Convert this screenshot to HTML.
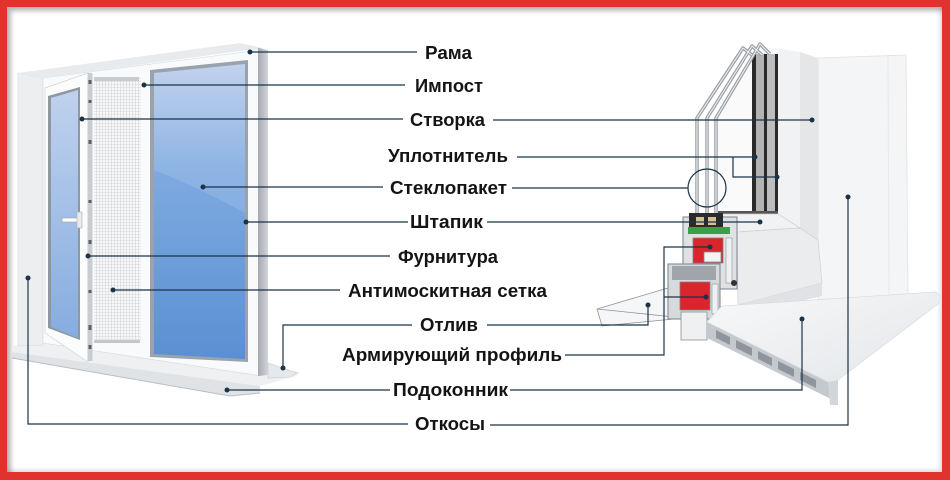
<!DOCTYPE html>
<html><head><meta charset="utf-8">
<style>
html,body{margin:0;padding:0;background:#e1332e;}
body{width:950px;height:480px;overflow:hidden;position:relative;}
.panel{position:absolute;left:7px;top:7px;width:935px;height:465px;background:#fff;box-shadow:inset 4px 4px 5px rgba(0,0,0,0.28), inset -2px -2px 4px rgba(0,0,0,0.14);}
svg{position:absolute;left:0;top:0;}
text{font-family:"Liberation Sans",Arial,sans-serif;font-weight:bold;font-size:18px;fill:#141414;}
</style></head><body>
<div class="panel"></div>
<svg width="950" height="480" viewBox="0 0 950 480">
<defs>
 <linearGradient id="glassBig" x1="0" y1="0" x2="0" y2="1">
  <stop offset="0" stop-color="#b9cceb"/>
  <stop offset="0.35" stop-color="#7faae0"/>
  <stop offset="1" stop-color="#5a90d3"/>
 </linearGradient>
 <linearGradient id="glassSm" x1="0" y1="0" x2="0" y2="1">
  <stop offset="0" stop-color="#bfd2ee"/>
  <stop offset="1" stop-color="#86acdf"/>
 </linearGradient>
 <linearGradient id="edgeG" x1="0" y1="0" x2="1" y2="0">
  <stop offset="0" stop-color="#a4a9b0"/>
  <stop offset="1" stop-color="#d3d6da"/>
 </linearGradient>
 <linearGradient id="sillG" x1="0" y1="0" x2="1" y2="1">
  <stop offset="0" stop-color="#f7f8f9"/>
  <stop offset="1" stop-color="#e3e6e9"/>
 </linearGradient>
 <pattern id="net" width="3" height="3" patternUnits="userSpaceOnUse">
  <rect width="3" height="3" fill="#f7f8f8"/>
  <path d="M0 0.5H3M0.5 0V3" stroke="#d3d6d9" stroke-width="0.6"/>
 </pattern>
</defs>

<!-- ===== LEFT WINDOW ===== -->
<!-- sill -->
<polygon points="12,346 45,340 300,372 296,376 260,386 12,352" fill="#eef0f2"/>
<polygon points="12,352 260,386 260,393 230,396 12,358" fill="#e0e3e6"/>
<line x1="12" y1="358" x2="230" y2="396" stroke="#b9bec4" stroke-width="1"/>
<line x1="230" y1="396" x2="260" y2="393" stroke="#b9bec4" stroke-width="1"/>
<!-- reveal -->
<polygon points="18,73 43,78 43,345 18,346" fill="#eceef0" stroke="#d6d9dc" stroke-width="0.6"/>
<!-- frame -->
<polygon points="43,78 245,52 262,48 262,376 43,343" fill="#f9fafb" stroke="#d6d9dc" stroke-width="0.6"/>
<polygon points="18,73 240,43 262,48 43,78" fill="#e8ebee"/>
<polygon points="258,48 268,50 268,375 258,376" fill="url(#edgeG)"/>
<polygon points="268,363 297,373 290,377 268,378" fill="#e6e9ec" stroke="#c5c9ce" stroke-width="0.6"/>
<!-- open sash -->
<polygon points="45,88 88,73 88,362 45,333" fill="#fbfcfc" stroke="#cfd3d7" stroke-width="0.7"/>
<polygon points="48,96 80,87 80,340 48,328" fill="#8f979f"/>
<polygon points="51,98 78,90 78,338 51,327" fill="url(#glassSm)"/>
<rect x="62" y="218" width="16" height="4" fill="#fff" stroke="#9aa1a8" stroke-width="0.6"/>
<rect x="77" y="212" width="5" height="16" fill="#e8eaec" stroke="#aab0b6" stroke-width="0.6"/>
<!-- hinge strip -->
<rect x="87.5" y="73" width="5" height="288" fill="#c9cdd1"/>
<g fill="#5a6066">
 <rect x="88.5" y="80" width="3" height="4"/><rect x="88.5" y="100" width="3" height="3"/>
 <rect x="88.5" y="140" width="3" height="4"/><rect x="88.5" y="200" width="3" height="3"/>
 <rect x="88.5" y="240" width="3" height="4"/><rect x="88.5" y="290" width="3" height="3"/>
 <rect x="88.5" y="325" width="3" height="5"/><rect x="88.5" y="345" width="3" height="4"/>
</g>
<!-- mosquito net -->
<rect x="94" y="77" width="47" height="265" fill="url(#net)"/>
<rect x="94" y="77" width="45" height="4" fill="#c8ccd0"/>
<rect x="94" y="340" width="46" height="3" fill="#c3c7cb"/>
<!-- big glass -->
<polygon points="150,70 248,60 248,362 150,357" fill="#9aa3ad"/>
<polygon points="154,73 245,64 245,359 154,354" fill="url(#glassBig)"/>
<path d="M154,170 Q200,188 245,213 L245,64 L154,73 Z" fill="#ffffff" opacity="0.12"/>

<!-- ===== RIGHT CROSS-SECTION ===== -->
<polygon points="818,58 906,55 908,296 818,300" fill="#f4f5f6" stroke="#e0e2e4" stroke-width="0.8"/>
<line x1="888" y1="56" x2="889" y2="297" stroke="#e6e8ea" stroke-width="1"/>
<polygon points="775,48 800,52 800,228 775,214" fill="#f1f2f3"/>
<polygon points="800,52 818,58 818,240 800,228" fill="#e4e6e8"/>
<polygon points="716,118 760,45 778,50 778,214 716,214" fill="#fafafa"/>
<rect x="752" y="54" width="4" height="160" fill="#2a2a2a"/>
<rect x="756" y="54" width="8" height="160" fill="#b3b3b3"/>
<rect x="764" y="54" width="3" height="160" fill="#2a2a2a"/>
<rect x="767" y="54" width="8" height="160" fill="#bdbdbd"/>
<rect x="775" y="54" width="3" height="160" fill="#2a2a2a"/>
<rect x="718" y="211" width="60" height="3" fill="#555"/>
<!-- panes -->
<g fill="none" stroke-linejoin="round">
 <polyline points="697,214 697,118 743,48 752,55" stroke="#9ca1a7" stroke-width="3.5"/>
 <polyline points="707,214 707,118 752,46 762,55" stroke="#9ca1a7" stroke-width="3.5"/>
 <polyline points="716,214 716,118 760,44 770,54" stroke="#9ca1a7" stroke-width="3.5"/>
 <polyline points="697,214 697,118 743,48 752,55" stroke="#eceef0" stroke-width="1.1"/>
 <polyline points="707,214 707,118 752,46 762,55" stroke="#eceef0" stroke-width="1.1"/>
 <polyline points="716,214 716,118 760,44 770,54" stroke="#eceef0" stroke-width="1.1"/>
</g>
<!-- frame faces -->
<polygon points="720,214 778,214 800,228 737,232" fill="#f1f2f3" stroke="#c9cccf" stroke-width="0.7"/>
<polygon points="737,232 800,228 818,240 822,283 738,305" fill="#eaecee" stroke="#cfd2d5" stroke-width="0.7"/>
<polygon points="738,305 822,283 822,296 722,320" fill="#e0e2e5"/>
<!-- отлив -->
<polygon points="597,309 668,288 684,318 602,326" fill="#f5f6f7" stroke="#8f959b" stroke-width="0.8"/>
<line x1="597" y1="309" x2="684" y2="318" stroke="#8f959b" stroke-width="0.8"/>
<!-- profile -->
<rect x="683" y="217" width="54" height="72" fill="#dfe2e5" stroke="#7d838a" stroke-width="1"/>
<rect x="689" y="213" width="34" height="14" fill="#2b2b2b"/>
<rect x="696" y="217" width="8" height="8" fill="#d6c28f"/>
<rect x="708" y="217" width="8" height="8" fill="#d6c28f"/>
<rect x="688" y="227" width="42" height="7" fill="#36a145"/>
<rect x="693" y="238" width="30" height="25" fill="#d9252b" stroke="#7d838a" stroke-width="0.8"/>
<rect x="704" y="252" width="17" height="10" fill="#f4f4f4" stroke="#888" stroke-width="0.8"/>
<rect x="726" y="238" width="6" height="45" fill="#f0f1f2" stroke="#8a9096" stroke-width="0.6"/>
<rect x="668" y="264" width="52" height="55" fill="#d7dadd" stroke="#7a8087" stroke-width="1"/>
<rect x="672" y="266" width="44" height="14" fill="#9fa5ab"/>
<rect x="680" y="282" width="30" height="28" fill="#d9252b" stroke="#7d838a" stroke-width="0.8"/>
<rect x="712" y="284" width="6" height="30" fill="#eef0f1" stroke="#8a9096" stroke-width="0.6"/>
<circle cx="734" cy="283" r="3" fill="#333"/>
<rect x="681" y="312" width="26" height="28" fill="#eef0f1" stroke="#8a9096" stroke-width="0.8"/>
<!-- sill right -->
<polygon points="707,322 833,383 833,400 707,338" fill="#c4c9ce"/>
<g fill="#8e959c">
 <polygon points="716,330 730,337 730,345 716,338"/>
 <polygon points="736,340 752,348 752,356 736,348"/>
 <polygon points="758,351 772,358 772,366 758,359"/>
 <polygon points="778,361 794,369 794,377 778,369"/>
 <polygon points="800,372 816,380 816,388 800,380"/>
</g>
<path d="M722,306 L935,292 Q944,296 938,304 L838,380 Q833,384 828,382 L707,322 Z" fill="url(#sillG)" stroke="#d9dce0" stroke-width="0.7"/>
<polygon points="828,382 838,380 838,405 830,405" fill="#d2d6da"/>

<!-- ===== CONNECTORS ===== -->
<g stroke="#1b3347" stroke-width="1.2" fill="none">
 <line x1="250" y1="52" x2="417" y2="52"/>
 <line x1="144" y1="85" x2="405" y2="85"/>
 <line x1="82" y1="119" x2="403" y2="119"/>
 <line x1="493" y1="120" x2="812" y2="120"/>
 <line x1="517" y1="157" x2="755" y2="157"/>
 <polyline points="733,157 733,177 777,177"/>
 <line x1="203" y1="187" x2="383" y2="187"/>
 <line x1="512" y1="188" x2="688" y2="188"/>
 <circle cx="707" cy="188" r="19"/>
 <line x1="246" y1="222" x2="408" y2="222"/>
 <line x1="487" y1="222" x2="760" y2="222"/>
 <line x1="88" y1="256" x2="390" y2="256"/>
 <line x1="113" y1="290" x2="340" y2="290"/>
 <polyline points="412,325 283,325 283,368"/>
 <polyline points="487,325 648,325 648,305"/>
 <polyline points="565,355 664,355 664,247 710,247"/>
 <line x1="664" y1="297" x2="706" y2="297"/>
 <line x1="227" y1="390" x2="390" y2="390"/>
 <polyline points="510,390 802,390 802,319"/>
 <polyline points="408,424 28,424 28,278"/>
 <polyline points="490,425 848,425 848,197"/>
</g>
<g fill="#1b3347">
 <circle cx="250" cy="52" r="2.5"/><circle cx="144" cy="85" r="2.5"/>
 <circle cx="82" cy="119" r="2.5"/><circle cx="812" cy="120" r="2.5"/>
 <circle cx="755" cy="157" r="2.5"/><circle cx="777" cy="177" r="2.5"/>
 <circle cx="203" cy="187" r="2.5"/><circle cx="246" cy="222" r="2.5"/>
 <circle cx="760" cy="222" r="2.5"/><circle cx="88" cy="256" r="2.5"/>
 <circle cx="113" cy="290" r="2.5"/><circle cx="283" cy="368" r="2.5"/>
 <circle cx="648" cy="305" r="2.5"/><circle cx="710" cy="247" r="2.5"/>
 <circle cx="706" cy="297" r="2.5"/><circle cx="227" cy="390" r="2.5"/>
 <circle cx="802" cy="319" r="2.5"/><circle cx="28" cy="278" r="2.5"/>
 <circle cx="848" cy="197" r="2.5"/>
</g>

<!-- ===== LABELS ===== -->
<text x="425" y="59" textLength="47" lengthAdjust="spacingAndGlyphs">Рама</text>
<text x="415" y="92" textLength="68" lengthAdjust="spacingAndGlyphs">Импост</text>
<text x="410" y="126" textLength="75" lengthAdjust="spacingAndGlyphs">Створка</text>
<text x="388" y="162" textLength="120" lengthAdjust="spacingAndGlyphs">Уплотнитель</text>
<text x="390" y="194" textLength="117" lengthAdjust="spacingAndGlyphs">Стеклопакет</text>
<text x="410" y="228" textLength="73" lengthAdjust="spacingAndGlyphs">Штапик</text>
<text x="398" y="263" textLength="100" lengthAdjust="spacingAndGlyphs">Фурнитура</text>
<text x="348" y="297" textLength="199" lengthAdjust="spacingAndGlyphs">Антимоскитная сетка</text>
<text x="420" y="331" textLength="58" lengthAdjust="spacingAndGlyphs">Отлив</text>
<text x="342" y="361" textLength="220" lengthAdjust="spacingAndGlyphs">Армирующий профиль</text>
<text x="393" y="396" textLength="115" lengthAdjust="spacingAndGlyphs">Подоконник</text>
<text x="415" y="430" textLength="70" lengthAdjust="spacingAndGlyphs">Откосы</text>
</svg>
</body></html>
